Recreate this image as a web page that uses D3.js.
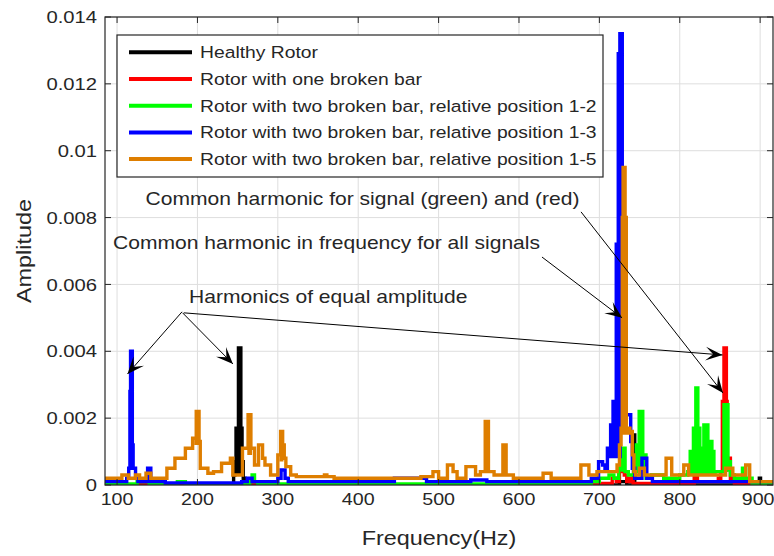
<!DOCTYPE html>
<html><head><meta charset="utf-8">
<script src="https://cdn.jsdelivr.net/npm/d3@7"></script>
<style>
html,body{margin:0;padding:0;background:#fff;}
svg{display:block;}
text{font-family:"Liberation Sans",Arial,Helvetica,sans-serif;fill:#262626;}
</style></head><body>
<svg id="chart" width="774" height="556"></svg>
<script>
// ---------------- DATA ----------------
const xTicks = [100, 200, 300, 400, 500, 600, 700, 800, 900];
const xTickLabels = ["100", "200", "300", "400", "500", "600", "700", "800", "900"];
const yTicks = [0, 0.002, 0.004, 0.006, 0.008, 0.01, 0.012, 0.014];
const yTickLabels = ["0", "0.002", "0.004", "0.006", "0.008", "0.01", "0.012", "0.014"];
const seriesNames = [
  "Healthy Rotor",
  "Rotor with one broken bar",
  "Rotor with two broken bar, relative position 1-2",
  "Rotor with two broken bar, relative position 1-3",
  "Rotor with two broken bar, relative position 1-5"
];
const seriesColors = ["#000000", "#ff0000", "#00ff00", "#0000ff", "#de7e00"];

// [frequency (Hz), amplitude] step breakpoints
const healthy = [[85,0],[245,0.0003],[246.5,0.0007],[248,0.0017],[251,0.0041],[254,0.0017],[255.5,0.0007],[257,0.0002],[259,0],
  [725,0.0001],[734,0],[742.5,0.0015],[744,0],[897,0],[899,0.0002],[900.5,0],[916,0]];
const oneBar = [[85,0],[700,0.00005],[716,0.0002],[721,0.0001],[725,0.0004],[727,0.0007],[731,0.0003],[734,0.0001],[738,0.0002],[742,0.00005],
  [818,0.0003],[820,0.0008],[822,0.0001],[848,0.0002],[851,0.0004],[853,0.0025],[855,0.0041],[858,0.0025],[859,0.0008],[863,0.0002],[868,0.00005],[916,0.00005]];
const twoBar12 = [[85,0.00003],[125,0.0001],[140,0.00003],[175,0.0001],[185,0.00003],[265,0.0001],[268,0.0003],[271,0.0001],[275,0.00003],
  [690,0.0001],[700,0.0002],[712,0.0003],[718,0.0002],[724,0.0005],[727,0.0011],[732,0.0004],[736,0.0003],[743,0.0004],[746,0.0012],[749.5,0.0022],[754,0.0009],[758,0.0002],
  [765,0.0003],[780,0.0002],[800,0.0003],[810,0.0004],[813,0.001],[817,0.0017],[820,0.0029],[822.5,0.0017],[825,0.0011],[830,0.0018],[835,0.0013],[840,0.001],[842.5,0.0004],
  [855,0.0024],[860,0.0007],[863,0.0003],[868,0.0002],[878,0.0005],[882,0.0002],[890,0.00003],[916,0.00003]];
const twoBar13 = [[85,0.0001],[112,0.0002],[114.5,0.0005],[116,0.0028],[116.8,0.004],[119,0.0012],[120,0.0005],[123,0.0002],[126,0.0001],[138,0.0005],[142,0.0001],[160,0.00006],
  [255,0.0001],[262,0.0002],[268,0.0001],[300,0.0002],[304,0.00045],[309,0.0002],[313,0.0001],[445,0.0002],[485,0.0001],[540,0.00015],[560,0.0001],
  [690,0.0002],[699,0.0007],[704,0.0006],[707,0.0005],[710,0.0011],[714,0.0018],[717,0.0025],[721,0.0072],[723.5,0.0129],[725.5,0.0135],[728.5,0.0021],
  [739,0.0013],[741,0.0005],[744,0.0002],[753,0.0008],[759,0.0002],[766,0.0001],[916,0.0001]];
const twoBar15 = [[85,0.0002],[106,0.0003],[114,0.0002],[123,0.0003],[128,0.0002],[136,0.00035],[142,0.0002],[162,0.0005],[172,0.0008],[185,0.0011],[194,0.0014],
  [198.5,0.0022],[202,0.0013],[203.5,0.0005],[213,0.00035],[220,0.0004],[230,0.00065],[241,0.0008],[244,0.0003],[256,0.0011],[263,0.0021],[266.5,0.0011],[271,0.0006],
  [276,0.0012],[281,0.0008],[284,0.0006],[291,0.0003],[300,0.0009],[303.5,0.0016],[306,0.0012],[308,0.0008],[310,0.00055],[316,0.0003],[323,0.00025],[358,0.0003],[361,0.00025],
  [370,0.0002],[478,0.00025],[493,0.0004],[500,0.0002],[511,0.0006],[518,0.0004],[523,0.0002],[534,0.00055],[546,0.0003],[552,0.0004],[558,0.0019],[562,0.0004],
  [569,0.0003],[580,0.0012],[584,0.0003],[593,0.0002],[630,0.00035],[640,0.0002],[677,0.0006],[687,0.0003],[697,0.0004],[722,0.0006],[725,0.0012],[727,0.0017],
  [728.5,0.008],[729.5,0.0095],[732,0.008],[733.5,0.0017],[738,0.0016],[741,0.0009],[743,0.0004],[745,0.0003],[750,0.0005],[756,0.0003],[783,0.0008],[790,0.0003],
  [805,0.0006],[811,0.0003],[857,0.0005],[866,0.0003],[882,0.0006],[887,0.0001],[916,0.0001]];
const allSeries = [healthy, oneBar, twoBar12, twoBar13, twoBar15];

// frequency bands where each spectrum is dense (drawn solid): [from Hz, to Hz, floor amplitude]
const healthyDense = [[246, 257, 0.0003]];
const oneBarDense = [[852, 860, 0.0004]];
const twoBar12Dense = [[726, 733, 0.0004], [745, 757, 0.0004], [812, 846, 0.0003], [854, 862, 0.0004]];
const twoBar13Dense = [[114.5, 120, 0.0005], [709, 728, 0.0008]];
const twoBar15Dense = [[196, 204, 0.0012], [262, 268, 0.0009], [302, 307, 0.0007], [556, 563, 0.0004], [579, 585, 0.0004], [725, 743, 0.0015]];
const allDense = [healthyDense, oneBarDense, twoBar12Dense, twoBar13Dense, twoBar15Dense];

// annotations: text anchor (left, baseline) and arrows [from, to] in data units
const noteTexts = ["Common harmonic for signal (green) and (red)", "Common harmonic in frequency for all signals", "Harmonics of equal amplitude"];
const notePos = [[135.4, 0.00838], [95, 0.00705], [189.5, 0.00544]];
const noteArrows = [
  [[677.2, 0.00817], [853.8, 0.00275]],
  [[628.6, 0.00682], [728.2, 0.0050]],
  [[180.8, 0.00518], [113, 0.00332]],
  [[181.5, 0.00515], [244.2, 0.00362]],
  [[183, 0.00515], [853.2, 0.00389]]
];

// ---------------- LAYOUT ----------------
const svg = d3.select("#chart");
const L = 105, R = 773, T = 17, B = 485;
const x = d3.scaleLinear().domain([85, 916]).range([L, R]);
const y = d3.scaleLinear().domain([0, 0.014]).range([B, T]);
const FONT_SX = 1.17;
const axisColor = "#262626";

function addText(g, px, py, str, size, anchor, rot) {
  return g.append("g").attr("transform", `translate(${px},${py}) rotate(${rot||0}) scale(${FONT_SX},1)`)
    .append("text").attr("x", 0).attr("y", 0).attr("font-size", size).attr("text-anchor", anchor || "start").text(str);
}

// grid
const grid = svg.append("g");
grid.selectAll("line.gx").data(xTicks).join("line")
  .attr("x1", d => x(d)).attr("x2", d => x(d)).attr("y1", T).attr("y2", B)
  .attr("stroke", "#dedede").attr("stroke-width", 1);
grid.selectAll("line.gy").data(yTicks).join("line")
  .attr("y1", d => y(d)).attr("y2", d => y(d)).attr("x1", L).attr("x2", R)
  .attr("stroke", "#dedede").attr("stroke-width", 1);

const defs = svg.append("defs");
defs.append("clipPath").attr("id", "clip")
  .append("rect").attr("x", L).attr("y", T).attr("width", R - L).attr("height", B - T);

const line = d3.line().x(d => x(d[0])).y(d => y(d[1])).curve(d3.curveStepAfter);
const plot = svg.append("g").attr("clip-path", "url(#clip)");
allSeries.forEach((s, i) => {
  allDense[i].forEach((band, j) => {
    const id = `band-${i}-${j}`;
    defs.append("clipPath").attr("id", id).append("rect")
      .attr("x", x(band[0])).attr("width", x(band[1]) - x(band[0])).attr("y", T).attr("height", B - T);
    const area = d3.area().x(d => x(d[0])).y0(d => y(Math.min(band[2], d[1]))).y1(d => y(d[1])).curve(d3.curveStepAfter);
    plot.append("path").datum(s).attr("d", area).attr("fill", seriesColors[i]).attr("clip-path", `url(#${id})`);
  });
  plot.append("path").datum(s).attr("d", line)
    .attr("fill", "none").attr("stroke", seriesColors[i]).attr("stroke-width", 3.4)
    .attr("stroke-linejoin", "miter");
});

// axes box
const axG = svg.append("g");
axG.append("rect").attr("x", L).attr("y", T).attr("width", R - L).attr("height", B - T)
  .attr("fill", "none").attr("stroke", axisColor).attr("stroke-width", 1.2);
const tl = 6;
xTicks.forEach(d => {
  axG.append("line").attr("x1", x(d)).attr("x2", x(d)).attr("y1", B).attr("y2", B - tl).attr("stroke", axisColor);
  axG.append("line").attr("x1", x(d)).attr("x2", x(d)).attr("y1", T).attr("y2", T + tl).attr("stroke", axisColor);
});
yTicks.forEach(d => {
  axG.append("line").attr("y1", y(d)).attr("y2", y(d)).attr("x1", L).attr("x2", L + tl).attr("stroke", axisColor);
  axG.append("line").attr("y1", y(d)).attr("y2", y(d)).attr("x1", R).attr("x2", R - tl).attr("stroke", axisColor);
});
xTicks.forEach((d, i) => addText(axG, x(d) - (i === xTicks.length - 1 ? 2 : 0), 505, xTickLabels[i], 16.8, "middle"));
yTicks.forEach((d, i) => addText(axG, 97, y(d) + 6.2, yTickLabels[i], 17.3, "end"));
addText(axG, (L + R) / 2, 545, "Frequency(Hz)", 20, "middle");
addText(axG, 31, (T + B) / 2, "Amplitude", 20, "middle", -90);

// legend
const lg = svg.append("g");
lg.append("rect").attr("x", 117).attr("y", 35).attr("width", 486).attr("height", 142)
  .attr("fill", "#fff").attr("stroke", axisColor).attr("stroke-width", 1.2);
seriesNames.forEach((n, i) => {
  const ry = 52.3 + i * 26.7;
  lg.append("line").attr("x1", 129).attr("x2", 192).attr("y1", ry).attr("y2", ry)
    .attr("stroke", seriesColors[i]).attr("stroke-width", 4);
  addText(lg, 200, ry + 6, n, 16.5, "start");
});

// annotations
const an = svg.append("g");
noteTexts.forEach((t, i) => addText(an, x(notePos[i][0]), y(notePos[i][1]), t, 18, "start"));
noteArrows.forEach(a => {
  const x1 = x(a[0][0]), y1 = y(a[0][1]), x2 = x(a[1][0]), y2 = y(a[1][1]);
  const ang = Math.atan2(y2 - y1, x2 - x1) * 180 / Math.PI;
  const HL = 17, HW = 14;
  an.append("line").attr("x1", x1).attr("y1", y1).attr("x2", x2).attr("y2", y2)
    .attr("stroke", "#000").attr("stroke-width", 1);
  an.append("path").attr("transform", `translate(${x2},${y2}) rotate(${ang})`)
    .attr("d", `M0,0 L${-HL},${-HW/2} L${-HL*0.55},0 L${-HL},${HW/2} Z`)
    .attr("fill", "#000");
});
</script>
</body></html>
